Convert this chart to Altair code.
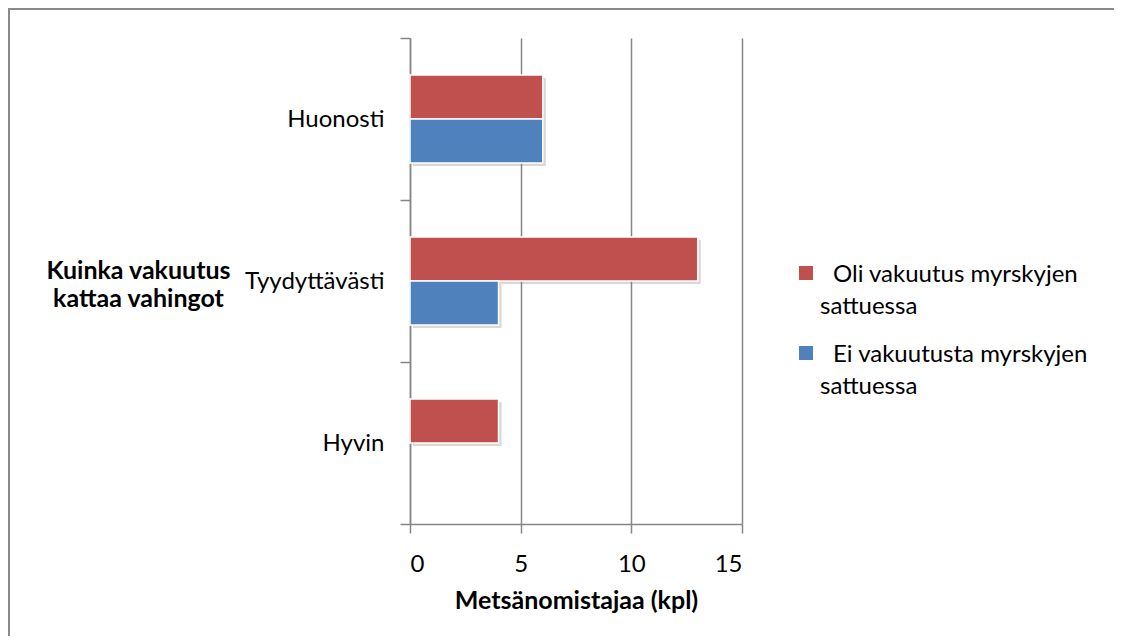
import altair as alt
import pandas as pd

categories = ["Huonosti", "Tyydyttävästi", "Hyvin"]
series = ["Oli vakuutus myrskyjen sattuessa", "Ei vakuutusta myrskyjen sattuessa"]
legend_line1 = ["Oli vakuutus myrskyjen", "Ei vakuutusta myrskyjen"]
legend_line2 = ["sattuessa", "sattuessa"]
oli_values = [6, 13, 4]
ei_values = [6, 4, 0]
colors = ["#C0504D", "#4F81BD"]
x_ticks = [0, 5, 10, 15]
y_title = ["Kuinka vakuutus", "kattaa vahingot"]
x_title = "Metsänomistajaa (kpl)"

rows = []
for i, c in enumerate(categories):
    rows.append({"cat": c, "series": series[0], "value": oli_values[i]})
    rows.append({"cat": c, "series": series[1], "value": ei_values[i]})
df = pd.DataFrame(rows)
leg_df = pd.DataFrame({"series": series, "line1": legend_line1, "line2": legend_line2})

FONT = "Lato"
GRID = "#868686"
LABEL_SIZE = 24
TITLE_SIZE = 25

y_enc = alt.Y(
    "cat:N", sort=categories,
    scale=alt.Scale(paddingInner=0, paddingOuter=0),
    axis=alt.Axis(
        tickBand="extent", ticks=True, tickSize=10, tickColor=GRID, tickWidth=1.5,
        domainColor=GRID, domainWidth=1.5, grid=False,
        labelFont=FONT, labelFontSize=LABEL_SIZE, labelColor="#000", labelPadding=16,
        title=y_title, titleAngle=0, titleX=-272, titleY=240, titleAlign="center",
        titleBaseline="alphabetic", titleFont=FONT, titleFontSize=TITLE_SIZE, titleFontWeight="bold",
        titleLineHeight=28, titleColor="#000",
    ),
)
yoff = alt.YOffset("series:N", sort=series, scale=alt.Scale(paddingOuter=0.84, paddingInner=0))
yoff_shadow = alt.YOffset("series:N", sort=series,
                          scale=alt.Scale(paddingOuter=0.84, paddingInner=0, range=[3, 165]))
x_enc = alt.X(
    "value:Q",
    scale=alt.Scale(domain=[0, 15], nice=False),
    axis=alt.Axis(
        values=x_ticks, tickSize=9, tickColor=GRID, tickWidth=1.5,
        domainColor=GRID, domainWidth=1.5, grid=True, gridColor=GRID, gridWidth=1.5,
        labelFont=FONT, labelFontSize=LABEL_SIZE, labelColor="#000", labelPadding=19,
        title=x_title, titleFont=FONT, titleFontSize=TITLE_SIZE, titleFontWeight="bold",
        titleColor="#000", titlePadding=12,
    ),
)
color_enc = alt.Color("series:N", sort=series, scale=alt.Scale(domain=series, range=colors), legend=None)

base = alt.Chart(df).transform_filter("datum.value > 0")

shadow = base.mark_bar(
    color="#7f7f7f", opacity=0.3, xOffset=3
).encode(x=x_enc, y=y_enc, yOffset=yoff_shadow)

bars = base.mark_bar(stroke="white", strokeWidth=1.5).encode(
    x=x_enc, y=y_enc, yOffset=yoff, color=color_enc,
)

main = alt.layer(shadow, bars).resolve_scale(yOffset="independent")

leg_y = alt.Y("series:N", sort=series, scale=alt.Scale(domain=series, range=[235, 315], padding=0), axis=None)
leg_base = alt.Chart(leg_df)
leg_sq = leg_base.mark_square(size=196, opacity=1).encode(
    x=alt.value(396), y=leg_y, color=color_enc
)
leg_t1 = leg_base.mark_text(
    align="left", baseline="alphabetic", font=FONT, fontSize=LABEL_SIZE, color="#000", dx=13, dy=9
).encode(x=alt.value(410), y=leg_y, text="line1:N")
leg_t2 = leg_base.mark_text(
    align="left", baseline="alphabetic", font=FONT, fontSize=LABEL_SIZE, color="#000", dy=41
).encode(x=alt.value(410), y=leg_y, text="line2:N")
leg = alt.layer(leg_sq, leg_t1, leg_t2)

frame = alt.Chart(pd.DataFrame({"f": [0]})).mark_rect(
    fill=None, stroke="#8a8a8a", strokeWidth=2
).encode(
    x=alt.value(-401), x2=alt.value(710), y=alt.value(-29), y2=alt.value(700)
)

chart = alt.layer(frame, main, leg).resolve_scale(y="independent").properties(
    width=332, height=486,
    autosize=alt.AutoSizeParams(type="none"),
    padding={"left": 402, "top": 30, "right": 372, "bottom": 112},
    background="white",
).configure_view(strokeWidth=0)

chart.save("out.html", embed_options={"renderer": "svg", "actions": False})
